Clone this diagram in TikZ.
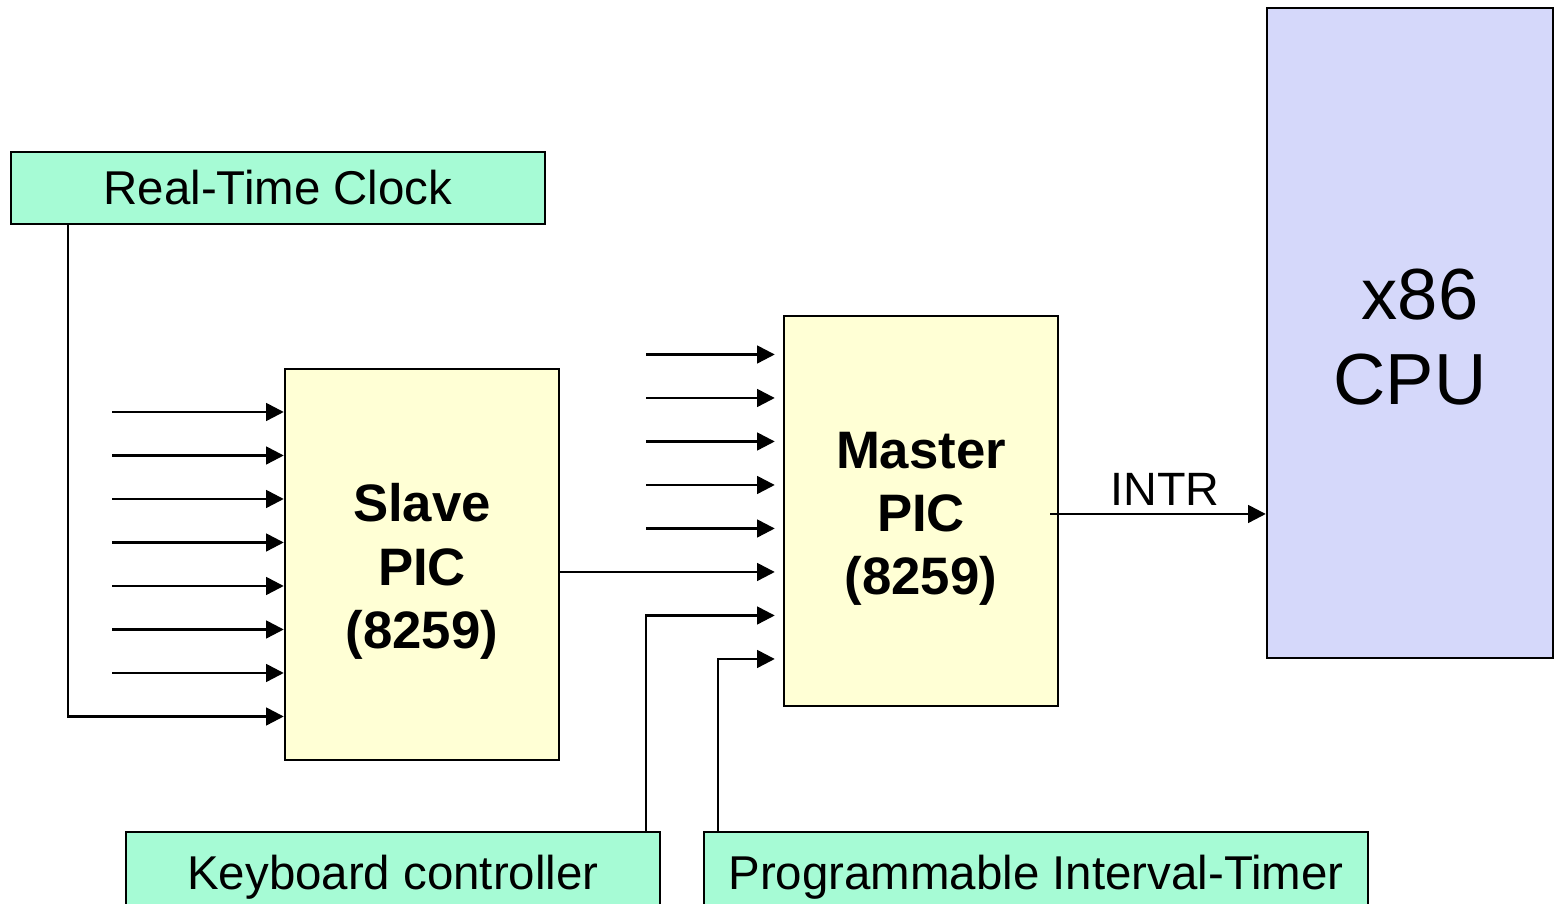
\documentclass[tikz,border=0pt]{standalone}
\usepackage{fontspec}
\setmainfont{Liberation Sans}
\usetikzlibrary{arrows.meta}
\definecolor{devgreen}{RGB}{166,251,213}
\definecolor{picyellow}{RGB}{255,255,213}
\definecolor{cpublue}{RGB}{213,216,250}
\tikzset{
	devbox/.style={draw=black, line width=0.7pt, fill=devgreen, inner sep=0pt,
		font=\fontsize{13.5}{16}\selectfont},
	picbox/.style={draw=black, line width=0.7pt, fill=picyellow, inner sep=0pt,
		minimum width=2.74cm, minimum height=3.91cm},
	pictext/.style={align=center, inner sep=0pt, font=\fontsize{15}{18}\selectfont\bfseries},
	cpubox/.style={draw=black, line width=0.7pt, fill=cpublue, inner sep=0pt,
		minimum width=2.86cm, minimum height=6.5cm},
	cputext/.style={align=center, inner sep=0pt, font=\fontsize{20.6}{24.2}\selectfont},
	irq/.style={line width=0.7pt, -{Triangle[length=5pt, width=5pt]}},
}

\begin{document}
\begin{tikzpicture}
		%%%%% START %%%%%
		\useasboundingbox (0, 0) rectangle (15.55, 9.04);
		\clip (0, 0) rectangle (15.55, 9.04);
		
		\node[devbox, minimum width=5.34cm, minimum height=0.72cm] (rtc) at (2.78, 7.16) {Real-Time Clock};
		\node[devbox, minimum width=5.34cm, minimum height=0.90cm] (kbd) at (3.93, 0.27) {Keyboard controller};
		\node[devbox, minimum width=6.64cm, minimum height=0.90cm] (pit) at (10.36, 0.27) {Programmable Interval-Timer};
		
		\node[picbox] (slave) at (4.22, 3.395) {};
		\node[pictext] (slavetxt) at ([yshift=-0.07cm]slave.center) {Slave\\PIC\\(8259)};
		\node[picbox, minimum height=3.90cm] (master) at (9.21, 3.93) {};
		\node[pictext] (mastertxt) at ([yshift=-0.08cm]master.center) {Master\\PIC\\(8259)};
		\node[cpubox] (cpu) at (14.10, 5.71) {};
		\node[cputext] (cputxt) at ([yshift=-0.04cm]cpu.center) {\ x86\\CPU};
		
		% slave inputs
		\foreach \i in {1,...,8}
			\coordinate (s\i) at (1.12, {1.44+0.435*\i});
		\foreach \i in {2,...,8}
			\draw[irq] (s\i) -- (s\i -| slave.west);
		\draw[irq] (rtc.south -| 0.68, 0) |- (s1 -| slave.west);
		
		% master inputs
		\foreach \i in {1,...,8}
			\coordinate (m\i) at (6.46, {2.015+0.435*\i});
		\foreach \i in {4,...,8}
			\draw[irq] (m\i) -- ([xshift=-0.8mm]m\i -| master.west);
		\draw[irq] (m3 -| slave.east) -- ([xshift=-0.8mm]m3 -| master.west);
		\draw[irq] (kbd.north -| m2) |- ([xshift=-0.8mm]m2 -| master.west);
		\coordinate (t1) at (7.18, 2.45);
		\draw[irq] (pit.north -| t1) |- ([xshift=-0.8mm]t1 -| master.west);
		
		% INTR
		\coordinate (intr) at (10.50, 3.90);
		\draw[irq] (intr) -- (intr -| cpu.west);
		\node[font=\fontsize{13.3}{16}\selectfont] (intrlbl) at (11.65, 4.15) {INTR};
		%%%%% END %%%%%
	\end{tikzpicture}
\end{document}
